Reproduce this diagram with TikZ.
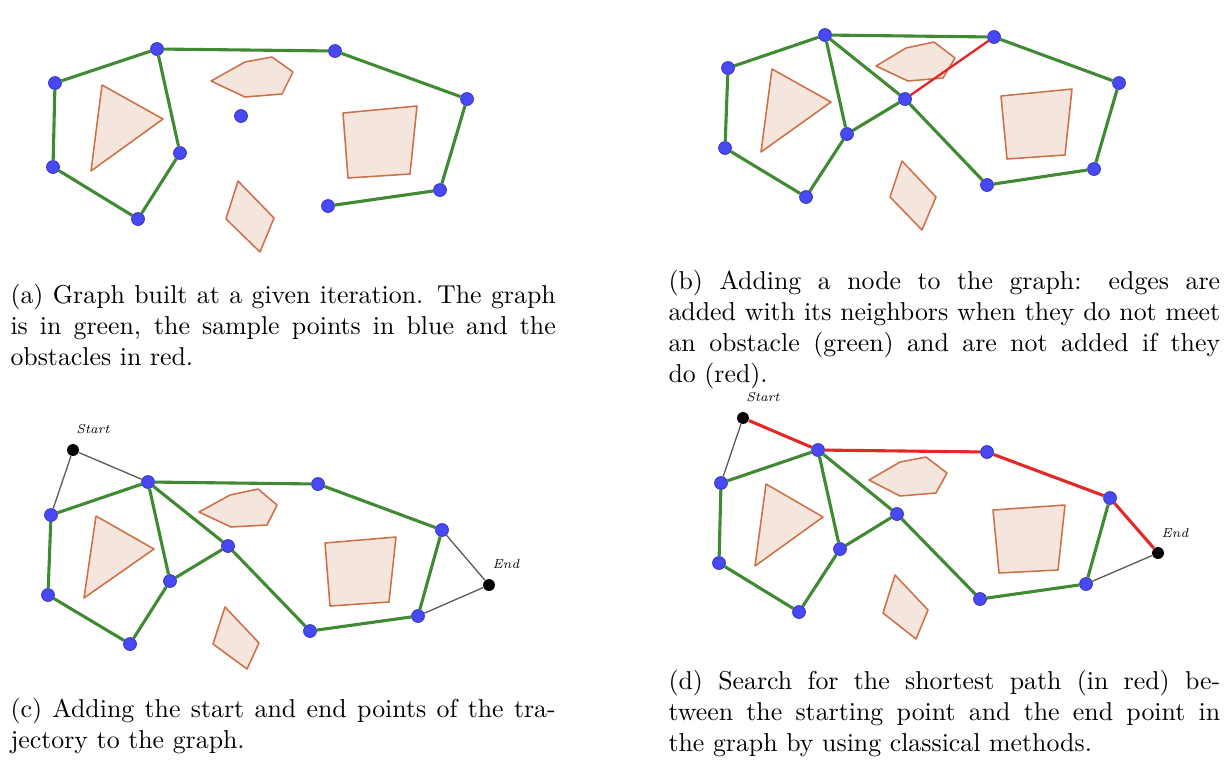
\documentclass[tikz,border=0pt]{standalone}
\usepackage{amsmath}
\usepackage{tikz}
\definecolor{ptblue}{RGB}{72,72,245}
\definecolor{edgegreen}{RGB}{64,138,52}
\definecolor{pathred}{RGB}{228,40,40}
\definecolor{obsline}{RGB}{205,112,72}
\definecolor{obsfill}{RGB}{245,230,221}
\tolerance=9999

\begin{document}
\begin{tikzpicture}[x=0.387pt,y=-0.387pt]
		\tikzset{sample/.style={circle,fill=ptblue,draw=ptblue!75!black,line width=0.3pt,minimum size=5pt,inner sep=0pt}};
		\tikzset{endpt/.style={circle,fill=black,minimum size=4.6pt,inner sep=0pt}};
		\tikzset{graphedge/.style={edgegreen,line width=1.2pt}};
		\tikzset{blocked/.style={pathred,line width=0.9pt}};
		\tikzset{shortest/.style={pathred,line width=1.2pt}};
		\tikzset{link/.style={black!65,line width=0.5pt}};
		\tikzset{obstacle/.style={draw=obsline,fill=obsfill,line width=0.6pt,line join=round}};
		\tikzset{caption/.style={anchor=north west,text width=211pt,align=justify,inner sep=0pt,font=\normalsize}};
		\tikzset{ptlabel/.style={font=\tiny\itshape,inner sep=0pt}};
		\useasboundingbox (0,0) rectangle (1229,762);
		% (a)
		\filldraw[obstacle] (102,85)--(163,119)--(91,171)--cycle;
		\filldraw[obstacle] (211,81)--(245,62)--(272,57)--(293,72)--(282,94)--(245,97)--cycle;
		\filldraw[obstacle] (343,113)--(417,106)--(410,174)--(348,178)--cycle;
		\filldraw[obstacle] (238,181)--(274,218)--(260,252)--(226,219)--cycle;
		\node[sample] (a1) at (157,49) {};
		\node[sample] (a2) at (335,51) {};
		\node[sample] (a3) at (55,83) {};
		\node[sample] (a4) at (53,167) {};
		\node[sample] (a5) at (138,219) {};
		\node[sample] (a6) at (180,153) {};
		\node[sample] (a7) at (241,116) {};
		\node[sample] (a8) at (467,99) {};
		\node[sample] (a9) at (440,190) {};
		\node[sample] (a10) at (328,206) {};
		\foreach \u/\v in {a3/a1,a1/a2,a1/a6,a6/a5,a5/a4,a4/a3,a2/a8,a8/a9,a9/a10}
			\draw[graphedge] (\u) -- (\v);
		\node[caption] (capa) at (10,284) {(a) Graph built at a given iteration. The graph\linebreak is in green, the sample points in blue and the\linebreak obstacles in red.};
		% (b)
		\filldraw[obstacle] (772,69)--(831,102)--(761,152)--cycle;
		\filldraw[obstacle] (876,66)--(906,48)--(934,42)--(955,58)--(943,78)--(908,81)--cycle;
		\filldraw[obstacle] (1001,96)--(1072,89)--(1065,155)--(1007,159)--cycle;
		\filldraw[obstacle] (902,161)--(936,197)--(922,230)--(890,197)--cycle;
		\node[sample] (b1) at (825,35) {};
		\node[sample] (b2) at (994,37) {};
		\node[sample] (b3) at (728,68) {};
		\node[sample] (b4) at (725,148) {};
		\node[sample] (b5) at (806,197) {};
		\node[sample] (b6) at (847,134) {};
		\node[sample] (b7) at (905,99) {};
		\node[sample] (b8) at (1119,83) {};
		\node[sample] (b9) at (1094,169) {};
		\node[sample] (b10) at (987,185) {};
		\foreach \u/\v in {b3/b1,b1/b2,b1/b6,b1/b7,b6/b7,b6/b5,b5/b4,b4/b3,b2/b8,b8/b9,b9/b10,b10/b7}
			\draw[graphedge] (\u) -- (\v);
		\draw[blocked] (b7) -- (b2);
		\node[caption,text width=213.5pt] (capb) at (668,270) {(b) Adding a node to the graph: edges are\linebreak added with its neighbors when they do not meet\linebreak an obstacle (green) and are not added if they\linebreak do (red).};
		% (c)
		\filldraw[obstacle] (96,516)--(154,549)--(84,598)--cycle;
		\filldraw[obstacle] (199,512)--(230,495)--(258,489)--(277,505)--(267,525)--(231,527)--cycle;
		\filldraw[obstacle] (325,543)--(396,537)--(389,602)--(330,606)--cycle;
		\filldraw[obstacle] (225,607)--(259,643)--(247,669)--(213,644)--cycle;
		\node[endpt] (sc) at (73,450) {};
		\node[endpt] (ec) at (489,585) {};
		\node[ptlabel] (lsc) at (93,429) {Start};
		\node[ptlabel] (lec) at (506,564) {End};
		\node[sample] (c1) at (148,482) {};
		\node[sample] (c2) at (318,484) {};
		\node[sample] (c3) at (51,515) {};
		\node[sample] (c4) at (48,595) {};
		\node[sample] (c5) at (130,644) {};
		\node[sample] (c6) at (170,581) {};
		\node[sample] (c7) at (228,546) {};
		\node[sample] (c8) at (442,530) {};
		\node[sample] (c9) at (418,616) {};
		\node[sample] (c10) at (310,631) {};
		\foreach \u/\v in {c3/c1,c1/c2,c1/c6,c1/c7,c6/c7,c6/c5,c5/c4,c4/c3,c2/c8,c8/c9,c9/c10,c10/c7}
			\draw[graphedge] (\u) -- (\v);
		\foreach \u/\v in {sc/c1,sc/c3,c8/ec,c9/ec}
			\draw[link] (\u) -- (\v);
		\node[caption] (capc) at (10,698) {(c) Adding the start and end points of the tra-\linebreak jectory to the graph.};
		% (d)
		\filldraw[obstacle] (766,484)--(823,517)--(755,566)--cycle;
		\filldraw[obstacle] (869,480)--(900,462)--(926,457)--(947,473)--(936,493)--(900,496)--cycle;
		\filldraw[obstacle] (993,510)--(1065,505)--(1058,570)--(999,573)--cycle;
		\filldraw[obstacle] (895,575)--(928,610)--(916,639)--(883,613)--cycle;
		\node[endpt] (sd) at (743,418) {};
		\node[endpt] (ed) at (1158,553) {};
		\node[ptlabel] (lsd) at (763,397) {Start};
		\node[ptlabel] (led) at (1175,533) {End};
		\node[sample] (d1) at (818,450) {};
		\node[sample] (d2) at (987,452) {};
		\node[sample] (d3) at (721,483) {};
		\node[sample] (d4) at (719,563) {};
		\node[sample] (d5) at (799,612) {};
		\node[sample] (d6) at (840,549) {};
		\node[sample] (d7) at (897,514) {};
		\node[sample] (d8) at (1110,498) {};
		\node[sample] (d9) at (1086,584) {};
		\node[sample] (d10) at (980,599) {};
		\foreach \u/\v in {d3/d1,d1/d6,d1/d7,d6/d7,d6/d5,d5/d4,d4/d3,d8/d9,d9/d10,d10/d7}
			\draw[graphedge] (\u) -- (\v);
		\foreach \u/\v in {sd/d1,d1/d2,d2/d8,d8/ed}
			\draw[shortest] (\u) -- (\v);
		\foreach \u/\v in {sd/d3,d9/ed}
			\draw[link] (\u) -- (\v);
		\node[caption,text width=213.5pt] (capd) at (668,670) {(d) Search for the shortest path (in red) be-\linebreak tween the starting point and the end point in\linebreak the graph by using classical methods.};
	\end{tikzpicture}
\end{document}
